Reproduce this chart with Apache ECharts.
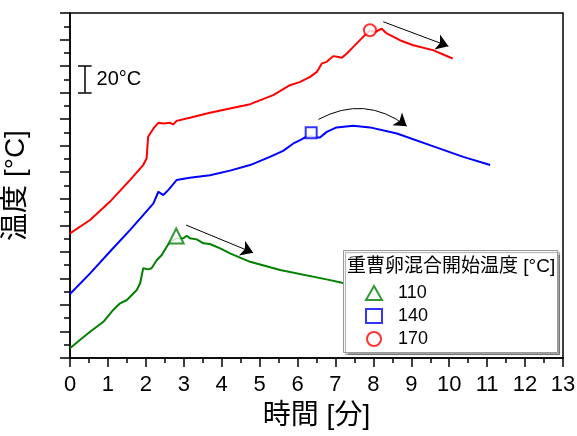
<!DOCTYPE html>
<html><head><meta charset="utf-8">
<script src="https://cdn.jsdelivr.net/npm/echarts@6/dist/echarts.min.js"></script>
<style>html,body{margin:0;padding:0;background:#fff}#c{width:577px;height:436px}</style>
</head><body><div id="c"></div>
<script>
// ---- data (x: minutes, y: temperature, relative units; 20 units = 20°C) ----
const redX  = [0,0.53,1.05,1.58,1.93,2.02,2.06,2.20,2.33,2.46,2.64,2.72,2.81,3.16,3.69,4.22,4.75,5.36,5.80,6.07,6.33,6.51,6.64,6.77,6.94,7.08,7.17,7.30,7.47,7.73,7.91,8.04,8.22,8.35,8.70,9.05,9.57,10.09];
const redY  = [93.9,104,117.7,134.1,145.4,150.4,166.7,173,177.2,176.8,177.2,176,178.7,181,184.8,188.1,191.3,198.1,205.6,208.1,211.9,215.6,222,223.2,227.5,226.9,226.2,229.5,234.5,242,247,245.5,248.2,244.6,239.5,235.7,232,225.7];
const blueX = [0,0.53,1.05,1.58,1.93,2.20,2.33,2.37,2.46,2.59,2.81,3.16,3.69,4.22,4.75,5.27,5.62,5.89,6.07,6.22,6.36,6.49,6.59,6.77,7.03,7.47,7.91,8.62,9.49,10.37,11.08];
const blueY = [48.2,63.8,80.1,96.4,107.7,116.5,125.3,126.5,122.8,126.5,134.1,135.8,137.8,141.2,145.4,151.6,156.1,161.7,164.2,166.7,167,166.4,166.2,170.4,173.8,175,173.8,169.2,160.4,151.6,145.4];
const greenX = [0,0.26,0.53,0.88,1.14,1.32,1.50,1.76,1.85,1.93,2.06,2.15,2.29,2.42,2.55,2.64,2.80,2.99,3.08,3.16,3.34,3.52,3.69,3.96,4.22,4.75,5.54,6.86,7.17,7.6];
const greenY = [7.3,13.6,19.8,27.3,36.2,41.2,43.7,51.2,56.3,67.6,66.8,67.6,73.8,77.6,83.8,87.6,90,90.2,92.1,90.2,89.4,86.4,85.9,82.6,78.9,72.5,66.3,58.7,56.7,54.2];
// mixing start markers
const legendNames = ['110','140','170'];
const markerPts = [[2.80,91.9],[6.36,169.7],[7.91,247]];
const legendTitle = '重曹卵混合開始温度 [°C]';
const xTicks = {min:0, max:13, interval:1};
const yRange = {min:0, max:260, interval:20};
// annotations (data coords)
const arrowRed = [[8.26,253.4],[9.98,235]];
const arrowBlue = [[6.55,179.8],[8.88,174.7]];
const arrowGreen = [[3.06,100.2],[4.83,79.3]];
const scaleBarX = 0.40, scaleBarCap = [0.21,0.57], scaleBarY = [200,220];
const scaleBarLabel = '20°C', scaleBarLabelPos = [0.70,210];

const C = {red:'#ff0000', blue:'#0000ff', green:'#008000'};
const FONT = '"Liberation Sans", Arial, "Noto Sans CJK JP", sans-serif';
const zip = (a,b)=>a.map((v,i)=>[v,b[i]]);

const chart = echarts.init(document.getElementById('c'));
const arrowSeries = (pts, curve)=>({
  type:'lines', coordinateSystem:'cartesian2d', silent:true, animation:false, z:3,
  symbol:['none','arrow'], symbolSize:12,
  lineStyle:{color:'#000', width:1, opacity:1, curveness:curve||0},
  data:[{coords:pts}]
});
const lineSeries = (x,y,color)=>({
  type:'line', data:zip(x,y), showSymbol:false, symbol:'none', z:2,
  lineStyle:{color, width:2}, animation:false, legendHoverLink:false
});
const symbols = ['triangle','rect','circle'];
const sizes = [15,11,12];
const colors = [C.green, C.blue, C.red];

const option = {
  animation:false,
  grid:{left:70, top:13, right:14, bottom:78, containLabel:false, outerBoundsMode:'none',
        show:true, borderColor:'#000', borderWidth:1.5, backgroundColor:'transparent'},
  xAxis:{type:'value', min:xTicks.min, max:xTicks.max, interval:xTicks.interval,
    name:'時間 [分]', nameLocation:'middle', nameGap:44,
    nameTextStyle:{fontSize:28, color:'#000', fontFamily:FONT},
    axisLine:{lineStyle:{color:'#000', width:1.5}},
    axisTick:{show:true, inside:false, length:9, lineStyle:{color:'#000', width:1.5}},
    minorTick:{show:true, splitNumber:2, length:5, lineStyle:{color:'#000', width:1.5}},
    splitLine:{show:false},
    axisLabel:{fontSize:22, color:'#000', fontFamily:FONT, margin:16}
  },
  yAxis:{type:'value', min:yRange.min, max:yRange.max, interval:yRange.interval,
    name:'温度 [°C]', nameLocation:'middle', nameGap:40, nameRotate:90,
    nameTextStyle:{fontSize:28, color:'#000', fontFamily:FONT},
    axisLine:{lineStyle:{color:'#000', width:1.5}},
    axisTick:{show:true, inside:false, length:10, lineStyle:{color:'#000', width:1.5}},
    minorTick:{show:true, splitNumber:2, length:6, lineStyle:{color:'#000', width:1.5}},
    splitLine:{show:false},
    axisLabel:{show:false}
  },
  legend:{
    orient:'vertical', left:360, top:279, z:20,
    data:legendNames, itemWidth:16, itemHeight:14, itemGap:5,
    textStyle:{fontSize:18, color:'#000', fontFamily:FONT, lineHeight:18, padding:[0,0,0,11]},
    selectedMode:false
  },
  series:[
    lineSeries(greenX, greenY, C.green),
    lineSeries(blueX, blueY, C.blue),
    lineSeries(redX, redY, C.red),
    arrowSeries(arrowGreen),
    arrowSeries(arrowBlue, 0.32),
    arrowSeries(arrowRed),
    ...legendNames.map((n,i)=>({
      type:'scatter', name:n, data:[markerPts[i]], symbol:symbols[i], symbolSize:sizes[i], z:5,
      itemStyle:{color:'#fff', borderColor:colors[i], borderWidth:2}, animation:false
    })),
    { // scale bar
      type:'line', data:[], silent:true, animation:false,
      markLine:{silent:true, symbol:'none', label:{show:false}, animation:false,
        lineStyle:{color:'#000', width:1.5, type:'solid'},
        data:[
          [{coord:[scaleBarX, scaleBarY[0]]},{coord:[scaleBarX, scaleBarY[1]]}],
          [{coord:[scaleBarCap[0], scaleBarY[0]]},{coord:[scaleBarCap[1], scaleBarY[0]]}],
          [{coord:[scaleBarCap[0], scaleBarY[1]]},{coord:[scaleBarCap[1], scaleBarY[1]]}]
        ]}
    },
    {
      type:'scatter', data:[scaleBarLabelPos], symbolSize:0, silent:true, animation:false,
      itemStyle:{opacity:1},
      label:{show:true, formatter:scaleBarLabel, position:'right', distance:0, fontSize:20, color:'#000', opacity:1, fontFamily:FONT}
    }
  ],
  graphic:[
    {type:'rect', left:343, top:250, z:10, shape:{width:214, height:102},
     style:{fill:'#fff', stroke:'#999', lineWidth:1, shadowColor:'rgba(0,0,0,0.35)', shadowOffsetX:2, shadowOffsetY:2, shadowBlur:1}},
    {type:'text', left:347, top:257, z:20,
     style:{text:legendTitle, fontSize:19, fill:'#000', fontFamily:FONT}}
  ]
};
chart.setOption(option);
</script></body></html>
